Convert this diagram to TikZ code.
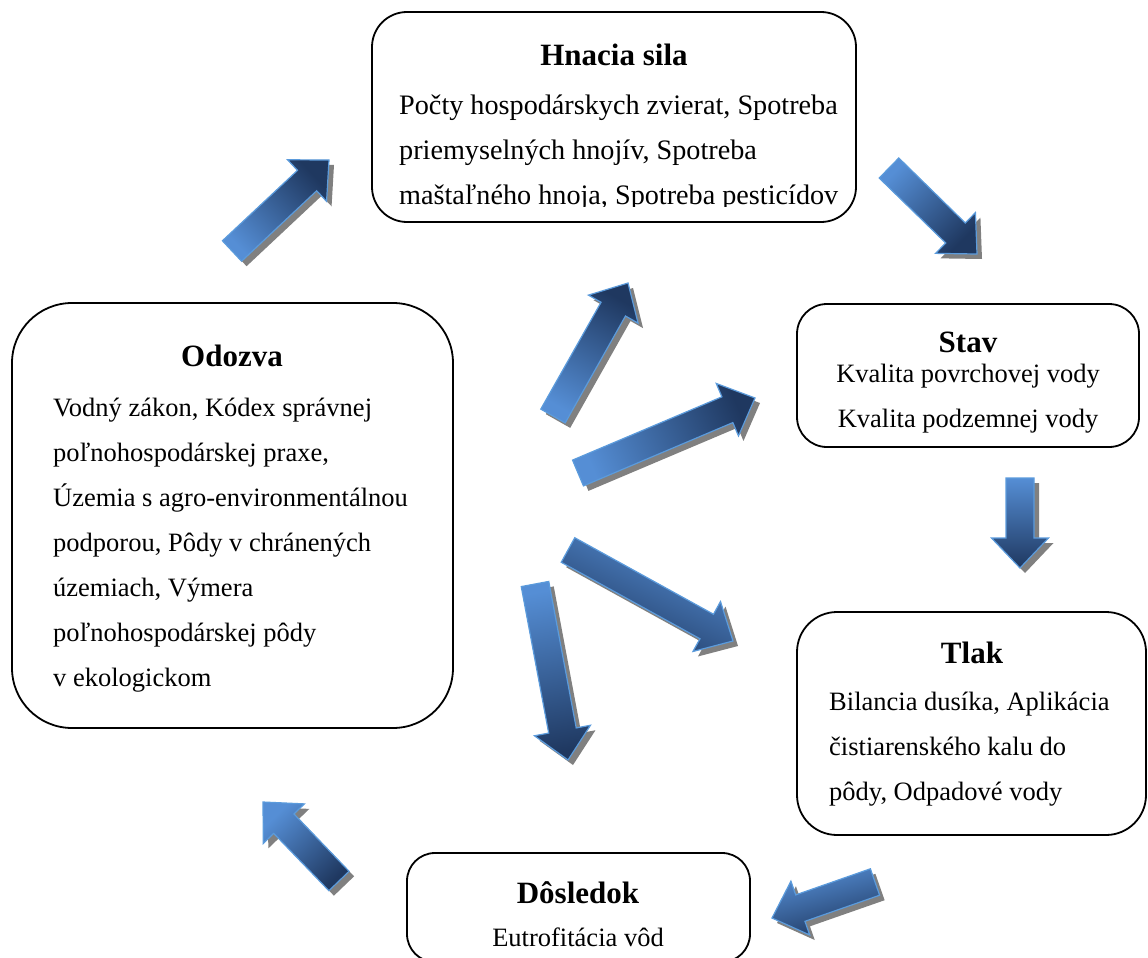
\documentclass[tikz,border=0pt]{standalone}
\usepackage{fontspec}
\setmainfont{Liberation Serif}
\usetikzlibrary{calc,shadows}
\definecolor{arrowlight}{RGB}{85,142,213}
\definecolor{arrowdark}{RGB}{31,56,96}
\definecolor{arrowedge}{RGB}{91,155,220}
\definecolor{shadowgray}{RGB}{128,128,128}
\tikzset{
  box/.style={draw=black, line width=1.8pt, fill=white, inner sep=0pt},
  boxtitle/.style={font=\fontsize{31}{36}\selectfont\bfseries, anchor=base, inner sep=0pt},
  bodyline/.style={font=\fontsize{26.5}{45}\selectfont, anchor=base west, inner sep=0pt},
  bigline/.style={font=\fontsize{28.2}{45}\selectfont, anchor=base west, inner sep=0pt},
  bodycentre/.style={font=\fontsize{26.5}{45}\selectfont, anchor=base, inner sep=0pt},
  barrow/.style={draw=arrowedge, line width=1.2pt, line join=miter,
    top color=arrowlight, bottom color=arrowdark,
    drop shadow={opacity=1, fill=shadowgray, shadow xshift=5pt, shadow yshift=-5pt}},
}
\newcommand\blockarrow[3]{%
  \path[barrow, shading angle=#3] let \p1=(#1), \p2=(#2),
    \n1={atan2(\y2-\y1,\x2-\x1)}, \n2={veclen(\x2-\x1,\y2-\y1)-30} in
    ($(\p1)+(\n1+90:14pt)$) --
    ($(\p1)+(\n1:{\n2*1pt})+(\n1+90:14pt)$) --
    ($(\p1)+(\n1:{\n2*1pt})+(\n1+90:28.5pt)$) --
    (\p2) --
    ($(\p1)+(\n1:{\n2*1pt})+(\n1-90:28.5pt)$) --
    ($(\p1)+(\n1:{\n2*1pt})+(\n1-90:14pt)$) --
    ($(\p1)+(\n1-90:14pt)$) -- cycle;
}
\begin{document}
\begin{tikzpicture}[x=1pt, y=-1pt]
\useasboundingbox[fill=white] (0,0) rectangle (1148,958);

% boxes
\node[box, minimum width=484pt, minimum height=210pt, rounded corners=35pt] (hs) at (614,117) {};
\node[box, minimum width=441pt, minimum height=425pt, rounded corners=60pt] (od) at (232.5,515.5) {};
\node[box, minimum width=342pt, minimum height=143pt, rounded corners=30pt] (st) at (968,375.5) {};
\node[box, minimum width=349pt, minimum height=223pt, rounded corners=40pt] (tl) at (971.5,723.5) {};
\node[box, minimum width=343pt, minimum height=109pt, rounded corners=28pt] (do) at (578.5,907.5) {};

% Hnacia sila
\node[boxtitle] (hst) at (614,66) {Hnacia sila};
\begin{scope}
  \clip (372,12) rectangle (856,206);
  \node[bigline] (hs1) at (399,114) {Počty hospodárskych zvierat, Spotreba};
  \node[bigline] (hs2) at (399,159) {priemyselných hnojív, Spotreba};
  \node[bigline] (hs3) at (399,204) {maštaľného hnoja, Spotreba pesticídov};
\end{scope}

% Odozva
\node[boxtitle] (odt) at (232,366) {Odozva};
\node[bodyline] (od1) at (53,416) {Vodný zákon, Kódex správnej};
\node[bodyline] (od2) at (53,461) {poľnohospodárskej praxe,};
\node[bodyline] (od3) at (53,506) {Územia s agro-environmentálnou};
\node[bodyline] (od4) at (53,551) {podporou, Pôdy v chránených};
\node[bodyline] (od5) at (53,596) {územiach, Výmera};
\node[bodyline] (od6) at (53,641) {poľnohospodárskej pôdy};
\node[bodyline] (od7) at (53,686) {v ekologickom};

% Stav
\node[boxtitle] (stt) at (968,352) {Stav};
\node[bodycentre] (st1) at (968,382) {Kvalita povrchovej vody};
\node[bodycentre] (st2) at (968,427) {Kvalita podzemnej vody};

% Tlak
\node[boxtitle] (tlt) at (972,663) {Tlak};
\node[bodyline] (tl1) at (829,710) {Bilancia dusíka, Aplikácia};
\node[bodyline] (tl2) at (829,755) {čistiarenského kalu do};
\node[bodyline] (tl3) at (829,800) {pôdy, Odpadové vody};

% Dôsledok
\node[boxtitle] (dot) at (578,903) {Dôsledok};
\node[bodycentre] (do1) at (578,946) {Eutrofitácia vôd};

% arrow end points
\coordinate (a1t) at (232,251); \coordinate (a1h) at (329,160);
\coordinate (a2t) at (889,168); \coordinate (a2h) at (977,254);
\coordinate (a3t) at (1020,478); \coordinate (a3h) at (1020,568);
\coordinate (a4t) at (875,882); \coordinate (a4h) at (772,918);
\coordinate (a5t) at (339,881); \coordinate (a5h) at (263,802);
\coordinate (a6t) at (553,416); \coordinate (a6h) at (628,283);
\coordinate (a7t) at (578,473); \coordinate (a7h) at (755,398);
\coordinate (a8t) at (568,550); \coordinate (a8h) at (733,641);
\coordinate (a9t) at (535,584); \coordinate (a9h) at (568,760);

\blockarrow{a1t}{a1h}{133}
\blockarrow{a2t}{a2h}{45}
\blockarrow{a3t}{a3h}{0}
\blockarrow{a4t}{a4h}{15}
\blockarrow{a5t}{a5h}{44}
\blockarrow{a6t}{a6h}{150}
\blockarrow{a7t}{a7h}{113}
\blockarrow{a8t}{a8h}{-25}
\blockarrow{a9t}{a9h}{10}
\end{tikzpicture}
\end{document}
